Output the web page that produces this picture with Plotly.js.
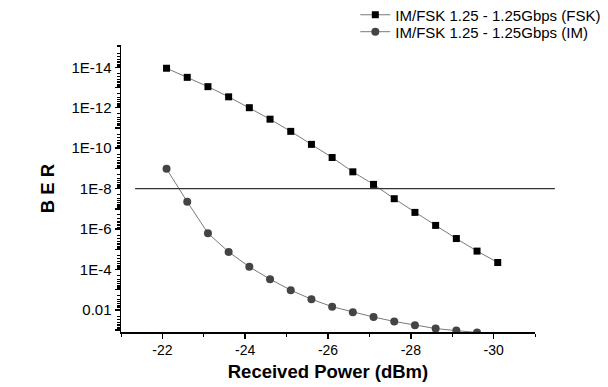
<!DOCTYPE html>
<html>
<head>
<meta charset="utf-8">
<script src="https://cdn.plot.ly/plotly-3.0.1.min.js"></script>
<style>html,body{margin:0;padding:0;background:#fff;}#chart{width:608px;height:387px;}</style>
</head>
<body>
<div id="chart"></div>
<script>
// Received power (dBm)
const powerFSK = [-22.1,-22.6,-23.1,-23.6,-24.1,-24.6,-25.1,-25.6,-26.1,-26.6,-27.1,-27.6,-28.1,-28.6,-29.1,-29.6,-30.1];
const berFSK = [1.12e-14,3.16e-14,9.1e-14,2.9e-13,1.0e-12,3.7e-12,1.48e-11,6.5e-11,2.9e-10,1.48e-9,6.2e-9,3.16e-8,1.5e-7,6.6e-7,2.95e-6,1.23e-5,4.5e-5];
const powerIM = [-22.1,-22.6,-23.1,-23.6,-24.1,-24.6,-25.1,-25.6,-26.1,-26.6,-27.1,-27.6,-28.1,-28.6,-29.1,-29.6];
const berIM = [1.05e-9,4.5e-8,1.6e-6,1.35e-5,7.4e-5,3.0e-4,1.05e-3,2.95e-3,6.9e-3,1.29e-2,2.24e-2,3.7e-2,5.75e-2,8.3e-2,0.105,0.13];
const threshold = [1e-8];
const seriesNames = ['IM/FSK 1.25 - 1.25Gbps (FSK)','IM/FSK 1.25 - 1.25Gbps (IM)'];
const yTickVals = [1e-14,1e-13,1e-12,1e-11,1e-10,1e-9,1e-8,1e-7,1e-6,1e-5,1e-4,1e-3,1e-2,1e-1];
const yTickText = ['1E-14','','1E-12','','1E-10','','1E-8','','1E-6','','1E-4','','0.01',''];
const xTickVals = [-22,-24,-26,-28,-30];

const yMinor = [];
for (let e = -16; e <= 0; e++) for (let k = 2; k <= 9; k++) yMinor.push(k * Math.pow(10, e));

const font = 'Liberation Sans, Arial, sans-serif';
const traces = [
  {x: powerFSK, y: berFSK, name: seriesNames[0], type: 'scatter', mode: 'lines+markers', legend: 'legend',
   line: {color: '#7a7a7a', width: 1}, marker: {symbol: 'square', size: 7, color: '#000'}},
  {x: powerIM, y: berIM, name: seriesNames[1], type: 'scatter', mode: 'lines+markers', legend: 'legend2',
   line: {color: '#7a7a7a', width: 1}, marker: {symbol: 'circle', size: 8, color: '#444'}}
];
const legendBase = {x: 0.566, xanchor: 'left', yanchor: 'top', bgcolor: 'rgba(0,0,0,0)',
                    font: {family: font, size: 15, color: '#000'}, itemwidth: 30};
const layout = {
  width: 608, height: 387,
  margin: {l: 121, r: 73, t: 45, b: 55, autoexpand: false},
  paper_bgcolor: '#fff', plot_bgcolor: '#fff',
  font: {family: font, size: 14, color: '#000'},
  showlegend: true,
  legend: Object.assign({}, legendBase, {y: 1.162}),
  legend2: Object.assign({}, legendBase, {y: 1.103}),
  xaxis: {range: [-21, -31], tickmode: 'array', tickvals: xTickVals, ticktext: xTickVals.map(String),
          showgrid: false, zeroline: false, showline: true, linecolor: '#000', linewidth: 1.5,
          ticks: 'outside', ticklen: 5, tickwidth: 1.5, tickcolor: '#000',
          minor: {dtick: 1, tick0: -21, ticks: 'outside', ticklen: 3, tickwidth: 1, tickcolor: '#000', showgrid: false},
          tickfont: {family: font, size: 14},
          title: {text: '<b>Received Power (dBm)</b>', font: {family: font, size: 18.5}, standoff: 8}},
  yaxis: {type: 'log', range: [-0.91, -15.1], tickmode: 'array', tickvals: yTickVals, ticktext: yTickText,
          showgrid: false, zeroline: false, showline: true, linecolor: '#000', linewidth: 1.5,
          ticks: 'outside', ticklen: 5, tickwidth: 1.5, tickcolor: '#000',
          minor: {tickmode: 'array', tickvals: yMinor, ticks: 'outside', ticklen: 3, tickwidth: 1, tickcolor: '#000', showgrid: false},
          tickfont: {family: font, size: 15},
          title: {text: '<b>B E R</b>', font: {family: font, size: 18.5}, standoff: 12}},
  shapes: [{type: 'line', xref: 'paper', yref: 'y', x0: 0.034, x1: 1.048,
            y0: threshold[0], y1: threshold[0],
            line: {color: '#333', width: 1.3}}]
};
Plotly.newPlot('chart', traces, layout, {displayModeBar: false, staticPlot: true});
</script>
</body>
</html>
